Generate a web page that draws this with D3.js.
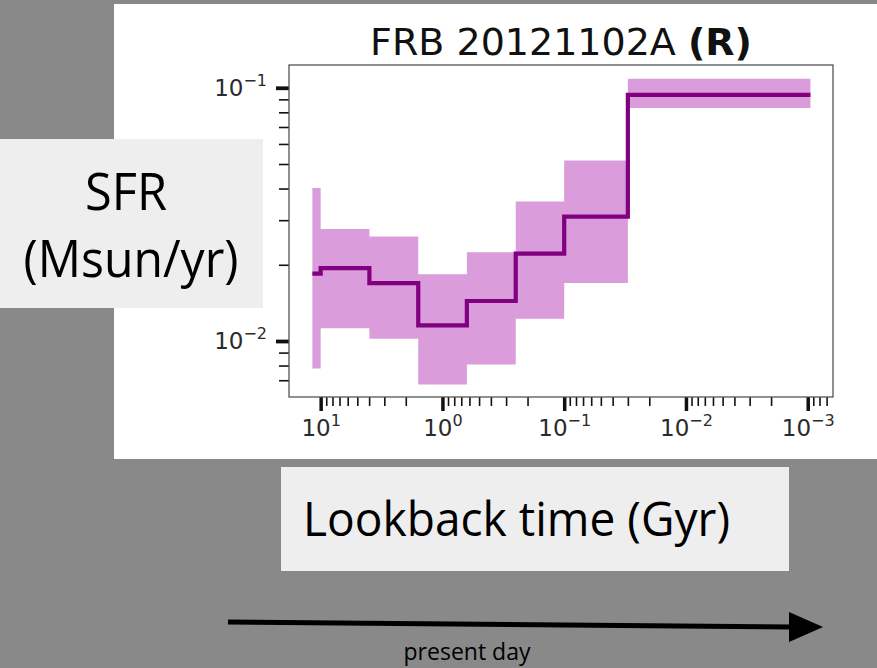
<!DOCTYPE html>
<html>
<head>
<meta charset="utf-8">
<script src="https://cdn.jsdelivr.net/npm/d3@7"></script>
<style>
  body { margin: 0; background: #898989; }
  svg { display: block; }
</style>
</head>
<body>
<div id="chart"></div>
<script>
// lookback time bin edges (Gyr), oldest first
const binEdges = [11.7, 10.0, 3.98, 1.58, 0.63, 0.25, 0.1, 0.03, 0.00095];
// SFR per bin (Msun/yr): median and 16/84 band
const sfrMedian = [0.01845, 0.01941, 0.01694, 0.01153, 0.01439, 0.02213, 0.0310, 0.0938];
const sfrLow    = [0.00778, 0.01124, 0.01021, 0.00673, 0.00807, 0.01225, 0.01694, 0.0832];
const sfrHigh   = [0.0402, 0.02768, 0.02588, 0.01833, 0.02243, 0.03556, 0.0516, 0.1085];
const xLimits = [18.2, 0.00062];
const yLimits = [0.00601, 0.1230];
const xTickValues = [10, 1, 0.1, 0.01, 0.001];
const yTickValues = [0.1, 0.01];

const W = 877, H = 668;
const frame = { left: 289, right: 833, top: 65, bottom: 397 };

const svg = d3.select("#chart").append("svg")
  .attr("width", W)
  .attr("height", H);

svg.append("rect").attr("width", W).attr("height", H).attr("fill", "#898989");
svg.append("rect")
  .attr("x", 114).attr("y", 4)
  .attr("width", W - 114).attr("height", 455)
  .attr("fill", "#ffffff");

const x = d3.scaleLog().domain(xLimits).range([frame.left, frame.right]);
const y = d3.scaleLog().domain(yLimits).range([frame.bottom, frame.top]);

// one point per edge, last edge repeats last bin value (step-after)
const n = sfrMedian.length;
const steps = binEdges.map((t, i) => {
  const k = Math.min(i, n - 1);
  return { t: t, v: sfrMedian[k], lo: sfrLow[k], hi: sfrHigh[k] };
});

const band = d3.area()
  .curve(d3.curveStepAfter)
  .x(d => x(d.t))
  .y0(d => y(d.lo))
  .y1(d => y(d.hi));

const line = d3.line()
  .curve(d3.curveStepAfter)
  .x(d => x(d.t))
  .y(d => y(d.v));

svg.append("path")
  .datum(steps)
  .attr("d", band)
  .attr("fill", "#da9cda");

svg.append("path")
  .datum(steps)
  .attr("d", line)
  .attr("fill", "none")
  .attr("stroke", "#800080")
  .attr("stroke-width", 4.2);

// axes
const isDecade = v => Math.abs(Math.log10(v) - Math.round(Math.log10(v))) < 1e-6;
const xMinor = x.ticks().filter(v => !isDecade(v));
const yMinor = y.ticks().filter(v => !isDecade(v));

function supLabels(g) {
  g.selectAll(".tick text").each(function (d) {
    const e = Math.round(Math.log10(d));
    const t = d3.select(this).text(null)
      .attr("font-family", "DejaVu Sans")
      .attr("font-size", 23)
      .attr("fill", "#2a2a2a");
    t.append("tspan").text("10");
    t.append("tspan").attr("dy", -10).attr("font-size", 16)
      .text(e < 0 ? "\u2212" + (-e) : String(e));
  });
}

svg.append("g")
  .attr("transform", `translate(0,${frame.bottom})`)
  .call(d3.axisBottom(x).tickValues(xMinor).tickSize(9).tickFormat(""))
  .call(g => g.select(".domain").remove())
  .call(g => g.selectAll("line").attr("stroke", "#111").attr("stroke-width", 1.6));

svg.append("g")
  .attr("transform", `translate(0,${frame.bottom})`)
  .call(d3.axisBottom(x).tickValues(xTickValues).tickSize(14).tickPadding(9).tickFormat(""))
  .call(g => g.select(".domain").remove())
  .call(g => g.selectAll("line").attr("stroke", "#111").attr("stroke-width", 3.5))
  .call(supLabels);

svg.append("g")
  .attr("transform", `translate(${frame.left},0)`)
  .call(d3.axisLeft(y).tickValues(yMinor).tickSize(10).tickFormat(""))
  .call(g => g.select(".domain").remove())
  .call(g => g.selectAll("line").attr("stroke", "#111").attr("stroke-width", 1.6));

svg.append("g")
  .attr("transform", `translate(${frame.left},0)`)
  .call(d3.axisLeft(y).tickValues(yTickValues).tickSize(13).tickPadding(9).tickFormat(""))
  .call(g => g.select(".domain").remove())
  .call(g => g.selectAll("line").attr("stroke", "#111").attr("stroke-width", 3.8))
  .call(supLabels);

svg.append("rect")
  .attr("x", frame.left).attr("y", frame.top)
  .attr("width", frame.right - frame.left)
  .attr("height", frame.bottom - frame.top)
  .attr("fill", "none")
  .attr("stroke", "#555")
  .attr("stroke-width", 1.3);

// title
const title = svg.append("text")
  .attr("x", (frame.left + frame.right) / 2)
  .attr("y", 55)
  .attr("text-anchor", "middle")
  .attr("font-family", "DejaVu Sans")
  .attr("font-size", 38)
  .attr("fill", "#111");
title.append("tspan").text("FRB 20121102A ");
title.append("tspan").attr("font-weight", "bold").text("(R)");

// slide labels
svg.append("rect").attr("x", 0).attr("y", 139).attr("width", 263).attr("height", 169).attr("fill", "#eeeeee");
svg.append("text").attr("x", 126).attr("y", 210).attr("text-anchor", "middle")
  .attr("font-family", "Open Sans").attr("font-size", 52).attr("fill", "#000")
  .attr("textLength", 82).attr("lengthAdjust", "spacingAndGlyphs")
  .text("SFR");
svg.append("text").attr("x", 131).attr("y", 277).attr("text-anchor", "middle")
  .attr("font-family", "Open Sans").attr("font-size", 52).attr("fill", "#000")
  .attr("textLength", 215).attr("lengthAdjust", "spacingAndGlyphs")
  .text("(Msun/yr)");

svg.append("rect").attr("x", 281).attr("y", 467).attr("width", 508).attr("height", 104).attr("fill", "#eeeeee");
svg.append("text").attr("x", 303).attr("y", 536)
  .attr("font-family", "Open Sans").attr("font-size", 47).attr("fill", "#000")
  .attr("textLength", 427).attr("lengthAdjust", "spacingAndGlyphs")
  .text("Lookback time (Gyr)");

// arrow
svg.append("path")
  .attr("d", "M228,622 L792,627")
  .attr("stroke", "#000").attr("stroke-width", 5).attr("fill", "none");
svg.append("path")
  .attr("d", "M789,612 L823,627 L789,642 Z")
  .attr("fill", "#000");
svg.append("text").attr("x", 467).attr("y", 660).attr("text-anchor", "middle")
  .attr("font-family", "Open Sans").attr("font-size", 23).attr("fill", "#000")
  .text("present day");
</script>
</body>
</html>
